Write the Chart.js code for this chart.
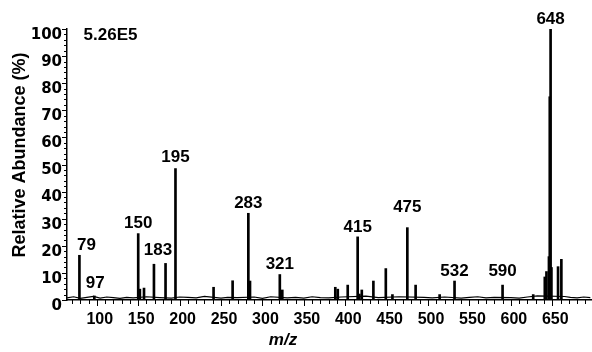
<!DOCTYPE html>
<html>
<head>
<meta charset="utf-8">
<script src="https://cdn.jsdelivr.net/npm/chart.js@4.4.1/dist/chart.umd.min.js"></script>
<style>
  html, body { margin: 0; padding: 0; background: #fff; }
  #wrap { width: 592px; height: 352px; position: relative; }
</style>
</head>
<body>
<div id="wrap"><canvas id="spectrum"></canvas></div>
<script>
// peaks (m/z, relative abundance %)
const peakMz = [79, 97, 150, 152, 157, 169, 183, 195, 241, 264, 283, 285, 321, 324,
    388, 391, 403, 415, 417, 420, 434, 449, 457, 475, 485, 514, 532, 590, 627,
    641, 643, 646, 647, 648, 649, 657, 661];
const peakInt = [16.5, 1.5, 24.5, 4, 4.4, 13.2, 13.5, 48.5, 4.7, 7.1, 32, 7, 9.4, 3.7,
    4.7, 4, 5.5, 23.3, 2.2, 3.7, 7, 11.6, 2, 26.7, 5.5, 2, 7, 5.5, 2,
    8.5, 10.5, 16, 75, 100, 12, 12.3, 15];

// baseline noise
const noiseMz = [64, 72, 80, 88, 96, 104, 112, 120, 128, 136, 144, 160, 176, 190, 200,
    210, 220, 230, 250, 258, 270, 290, 300, 310, 330, 340, 350, 360, 370, 380,
    395, 425, 440, 465, 495, 505, 520, 540, 550, 560, 570, 580, 600, 610, 620,
    632, 665, 672, 680, 688, 696];
const noiseInt = [0.8, 1.2, 0.6, 1.0, 1.3, 0.7, 1.1, 0.9, 0.6, 1.0, 0.8, 1.2, 0.9, 0.7, 1.1,
    1.0, 0.8, 1.3, 0.7, 1.0, 0.9, 1.1, 0.6, 1.2, 0.8, 1.0, 0.7, 1.2, 0.9, 0.8,
    1.1, 1.4, 0.9, 1.2, 1.0, 0.8, 1.1, 0.7, 1.0, 1.2, 0.8, 1.0, 0.9, 0.7, 1.1,
    1.5, 1.3, 1.0, 0.8, 1.1, 0.9];

const labelMz = [79, 97, 150, 183, 195, 283, 321, 415, 475, 532, 590, 648];
const xTicks = [100, 150, 200, 250, 300, 350, 400, 450, 500, 550, 600, 650];
const baseIntensity = '5.26E5';

const FONT = "'Liberation Sans', Arial, sans-serif";
Chart.defaults.font.family = FONT;
Chart.defaults.color = '#000';

// small nudges so labels sit where the original has them
const labelNudge = { 79: [7, 0], 97: [1, -3], 183: [-7.5, -3.5], 195: [0, -1], 475: [0, -10], 590: [0, -4] };

const decor = {
    id: 'decor',
    afterDraw(chart) {
        const { ctx, scales: { x, y } } = chart;
        const base = y.getPixelForValue(0);
        const left = x.left;
        ctx.save();
        ctx.strokeStyle = '#000';
        ctx.lineWidth = 1;
        ctx.beginPath();
        for (let v = 70; v < x.max; v += 10) {
            const px = Math.round(x.getPixelForValue(v)) + 0.5;
            const len = v % 50 === 0 ? 6 : 4;
            ctx.moveTo(px, base);
            ctx.lineTo(px, base + len);
        }
        for (let v = 0; v <= 100; v += 2) {
            const py = Math.round(y.getPixelForValue(v)) + 0.5;
            const len = v % 10 === 0 ? 5 : 3;
            ctx.moveTo(left - len, py);
            ctx.lineTo(left, py);
        }
        ctx.stroke();

        ctx.fillStyle = '#000';
        ctx.textAlign = 'center';
        ctx.textBaseline = 'middle';
        ctx.font = 'bold 17px ' + FONT;
        labelMz.forEach((mz) => {
            const i = peakMz.indexOf(mz);
            const n = labelNudge[mz] || [0, 0];
            const px = x.getPixelForValue(mz) + n[0];
            const py = y.getPixelForValue(peakInt[i]) - 10 + n[1];
            ctx.fillText(String(mz), px, py);
        });
        ctx.fillText(baseIntensity, 110.5, 35);

        ctx.font = 'italic bold 17px ' + FONT;
        ctx.fillText('m/z', 283, 340);

        ctx.save();
        ctx.translate(20, 155);
        ctx.rotate(-Math.PI / 2);
        ctx.font = 'bold 18px ' + FONT;
        ctx.fillText('Relative Abundance (%)', 0, 0);
        ctx.restore();
        ctx.restore();
    },
};

const ctx = document.getElementById('spectrum').getContext('2d');
new Chart(ctx, {
    type: 'bar',
    data: {
        datasets: [
            {
                type: 'bar',
                data: peakMz.map((m, i) => ({ x: m, y: peakInt[i] })),
                backgroundColor: '#000',
                borderWidth: 0,
                barThickness: 2,
                order: 1,
            },
            {
                type: 'line',
                data: noiseMz.map((m, i) => ({ x: m, y: noiseInt[i] })),
                borderColor: '#000',
                borderWidth: 1.2,
                pointRadius: 0,
                tension: 0,
                order: 2,
            },
        ],
    },
    options: {
        responsive: true,
        maintainAspectRatio: false,
        animation: false,
        layout: { padding: { top: 29, right: 0, left: 0, bottom: 0 } },
        plugins: { legend: { display: false }, tooltip: { enabled: false } },
        scales: {
            x: {
                type: 'linear',
                offset: false,
                min: 64,
                max: 698,
                afterFit: (s) => { s.height = 52; },
                afterBuildTicks: (s) => { s.ticks = xTicks.map((v) => ({ value: v })); },
                grid: { display: true, drawOnChartArea: false, drawTicks: false },
                border: { display: true, color: '#000', width: 1.5 },
                ticks: {
                    autoSkip: false,
                    maxRotation: 0,
                    padding: 10,
                    labelOffset: 3,
                    font: { size: 16, weight: 'bold' },
                    color: '#000',
                },
            },
            y: {
                min: 0,
                max: 100,
                afterFit: (s) => { s.width = 67; },
                grid: { display: true, drawOnChartArea: false, drawTicks: false },
                border: { display: true, color: '#000', width: 1.5 },
                ticks: {
                    stepSize: 10,
                    padding: 5,
                    labelOffset: 6,
                    font: { family: "'DejaVu Sans', sans-serif", size: 15, weight: 'bold' },
                    color: '#000',
                },
            },
        },
    },
    plugins: [decor],
});
</script>
</body>
</html>
